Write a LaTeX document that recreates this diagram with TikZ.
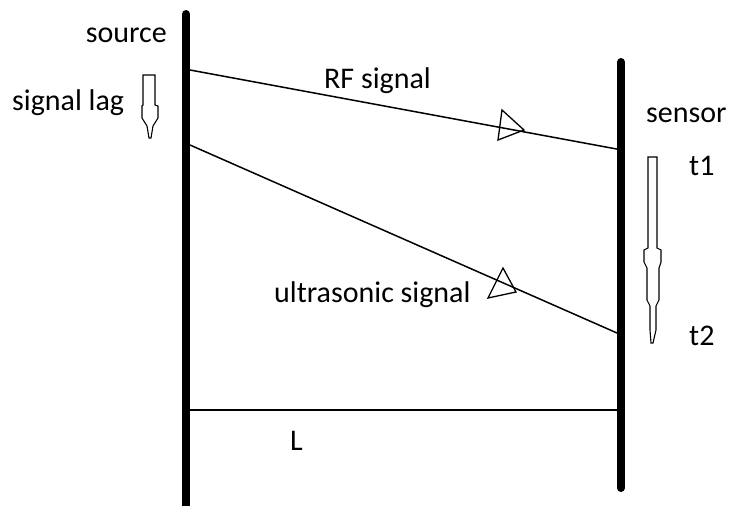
\documentclass[tikz,border=0pt]{standalone}
\usepackage{fontspec}
\setmainfont{Carlito}
\begin{document}
\begin{tikzpicture}[x=1pt,y=-1pt,
  bar/.style={line width=8pt,line cap=round},
  sig/.style={line width=1.5pt},
  tri/.style={line width=1.3pt,line join=miter},
  lbl/.style={inner sep=0pt,font=\fontsize{30}{34}\selectfont,text=black}]
\useasboundingbox (0,0) rectangle (732,506);
% bars
\coordinate (srcTop) at (186,14);
\coordinate (srcBot) at (186,512);
\coordinate (senTop) at (621,62);
\coordinate (senBot) at (621,488);
\draw[bar] (srcTop) -- (srcBot);
\draw[bar] (senTop) -- (senBot);
% signals
\coordinate (rfA) at (190,70);
\coordinate (rfB) at (622,150);
\coordinate (usA) at (190,145);
\coordinate (usB) at (617,333);
\coordinate (lA) at (190,410);
\coordinate (lB) at (617,410);
\draw[sig] (rfA) -- (rfB);
\draw[sig] (usA) -- (usB);
\draw[sig] (lA) -- (lB);
% open triangle arrowheads
\draw[tri] (502,110) -- (524,130) -- (498,140) -- cycle;
\draw[tri] (503,268) -- (516,292) -- (488,298) -- cycle;
% hollow arrows
\draw[line width=1.1pt] (143,75) -- (155,75) -- (155,105) -- (158,106) -- (158,118) -- (153,126) -- (151,138)
  -- (149,138) -- (147,126) -- (142,118) -- (142,106) -- (143,105) -- cycle;
\draw[line width=1.1pt] (648,157) -- (657,157) -- (657,248) -- (661,250) -- (661,262) -- (659,268) -- (659,300)
  -- (656,306) -- (656,330) -- (653,343) -- (651,343) -- (650,330) -- (650,306) -- (647,300) -- (647,268)
  -- (644,262) -- (644,250) -- (648,248) -- cycle;
% labels
\node[lbl,anchor=base east] (source) at (167,42) {source};
\node[lbl,anchor=base west] (lag) at (12,110) {signal lag};
\node[lbl,anchor=base west] (rf) at (324,88) {RF signal};
\node[lbl,anchor=base west] (sensor) at (646,122) {sensor};
\node[lbl,anchor=base west] (t1) at (689,175) {t1};
\node[lbl,anchor=base west] (t2) at (689,345) {t2};
\node[lbl,anchor=base west] (us) at (274,302) {ultrasonic signal};
\node[lbl,anchor=base west] (L) at (290,450) {L};
\end{tikzpicture}
\end{document}
